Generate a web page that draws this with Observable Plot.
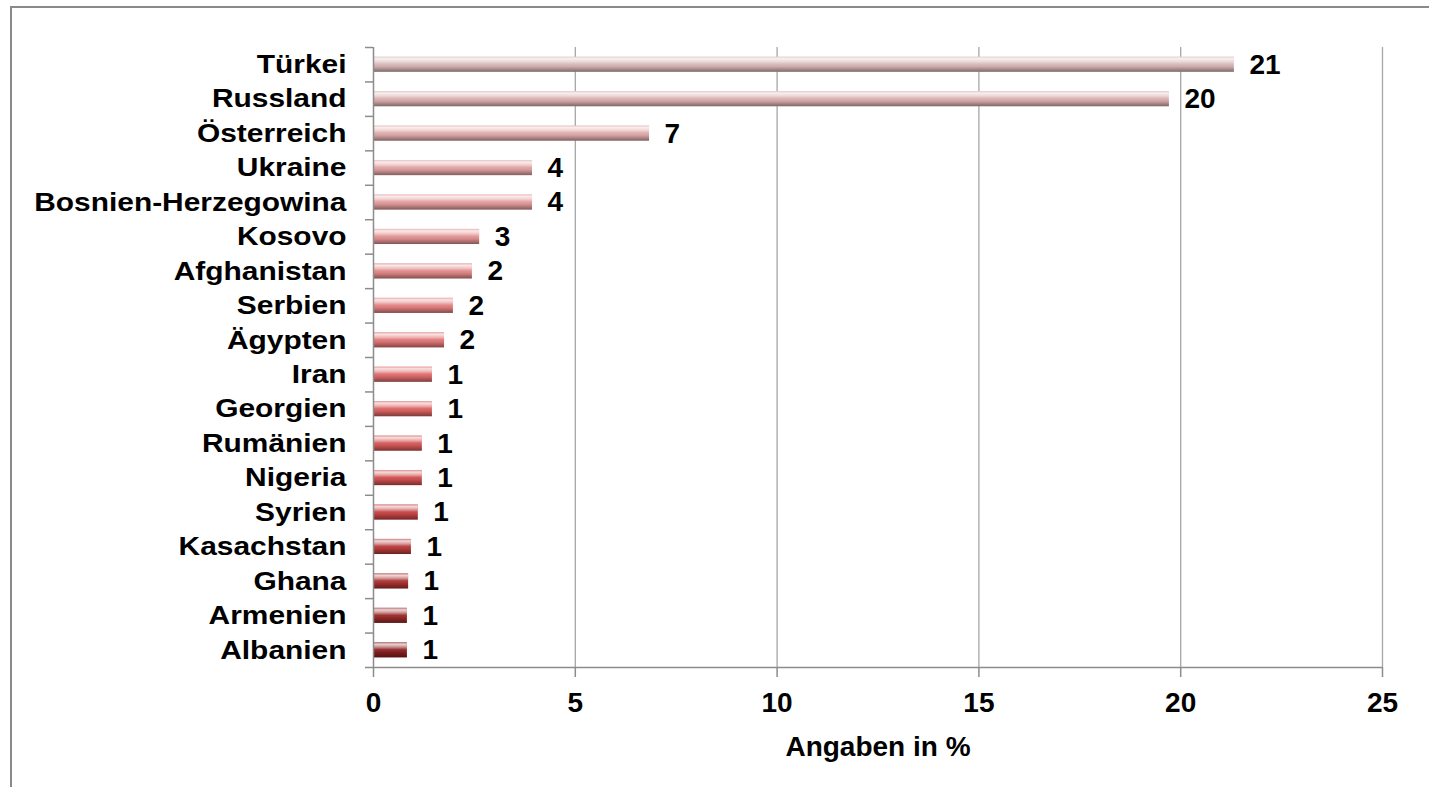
<!DOCTYPE html>
<html>
<head>
<meta charset="utf-8">
<script src="https://cdn.jsdelivr.net/npm/d3@7"></script>
<script src="https://cdn.jsdelivr.net/npm/@observablehq/plot@0.6"></script>
<style>
  body { margin: 0; background: #fff; }
  #wrap { position: relative; width: 1429px; height: 787px; overflow: hidden; }
  #wrap svg { position: absolute; left: 0; top: 0; }
  #border { position: absolute; left: 10px; top: 6px; width: 1440px; height: 800px;
            border-top: 2px solid #8a8a8a; border-left: 2px solid #8a8a8a; pointer-events: none; }
</style>
</head>
<body>
<div id="wrap"><div id="border"></div></div>
<script>
// ---- data ----
const countries = ["Türkei", "Russland", "Österreich", "Ukraine", "Bosnien-Herzegowina", "Kosovo",
  "Afghanistan", "Serbien", "Ägypten", "Iran", "Georgien", "Rumänien", "Nigeria", "Syrien",
  "Kasachstan", "Ghana", "Armenien", "Albanien"];
const values = [21.33, 19.72, 6.84, 3.94, 3.94, 2.63, 2.45, 1.98, 1.76, 1.46, 1.46, 1.21, 1.21, 1.11,
  0.94, 0.87, 0.84, 0.84];
const valueLabels = ["21", "20", "7", "4", "4", "3", "2", "2", "2", "1", "1", "1", "1", "1", "1", "1", "1", "1"];
const xTicks = [0, 5, 10, 15, 20, 25];
const xGrid = [5, 10, 15, 20, 25];
const xTitle = "Angaben in %";

const rows = countries.map((c, i) => ({country: c, value: values[i], label: valueLabels[i]}));

// ---- style ----
const W = 1429, H = 787;
const mTop = 47, mBottom = 120, mLeft = 373, mRight = 47;
const padInner = 0.56;
const step = (H - mTop - mBottom) / countries.length;
const palette = d3.quantize(d3.interpolateRgbBasis(["#d9b6b6", "#e39a9a", "#e27070", "#d04646", "#8a2020"]), countries.length);
const font = "'Liberation Sans', Arial, Helvetica, sans-serif";
const axisGray = "#8c8c8c";
const tickUnits = 8 / ((W - mLeft - mRight) / 25);

function defs() {
  const d = d3.create("svg:defs");
  const g = d.append("linearGradient").attr("id", "shine").attr("x1", 0).attr("y1", 0).attr("x2", 0).attr("y2", 1);
  [[0, "#fff", 0.35], [0.14, "#fff", 0.8], [0.32, "#fff", 0.5], [0.5, "#fff", 0.05],
   [0.68, "#000", 0.08], [1, "#000", 0.42]].forEach(([o, c, a]) =>
    g.append("stop").attr("offset", o).attr("stop-color", c).attr("stop-opacity", a));
  const f = d.append("filter").attr("id", "shadow").attr("x", "-5%").attr("y", "-50%").attr("width", "115%").attr("height", "220%");
  f.append("feDropShadow").attr("dx", 2).attr("dy", 3).attr("stdDeviation", 2)
    .attr("flood-color", "#000").attr("flood-opacity", 0.3);
  return d.node();
}

const svg = Plot.plot({
  width: W, height: H,
  marginTop: mTop, marginBottom: mBottom, marginLeft: mLeft, marginRight: mRight,
  style: {fontFamily: font, background: "transparent"},
  x: {domain: [0, 25]},
  y: {type: "band", domain: countries, paddingInner: padInner, paddingOuter: padInner / 2, round: false},
  color: {type: "ordinal", domain: countries, range: palette},
  marks: [
    defs,
    Plot.ruleX(xGrid, {stroke: "#a6a6a6", strokeWidth: 1.3}),
    Plot.barX(rows, {x: "value", y: "country", fill: "country", ariaLabel: "basebar"}),
    Plot.barX(rows, {x: "value", y: "country", fill: "url(#shine)", ariaLabel: "shinebar"}),
    Plot.ruleX([0], {stroke: axisGray, strokeWidth: 1.5}),
    Plot.ruleY(countries, {y: d => d, x1: -tickUnits, x2: 0, dy: -step / 2, stroke: axisGray, strokeWidth: 1.5}),
    Plot.ruleY([countries[countries.length - 1]], {y: d => d, x1: -tickUnits, x2: 25, dy: step / 2, stroke: axisGray, strokeWidth: 1.5}),
    Plot.axisX({ticks: xTicks, tickSize: 10, tickPadding: 15, stroke: axisGray, strokeWidth: 1.5,
      fill: "#000", fontSize: 28, fontWeight: "bold", label: null}),
    Plot.axisY({tickSize: 0, tickPadding: 27, fill: "#000", fontSize: 26, fontWeight: "bold", label: null}),
    Plot.text(rows, {x: "value", y: "country", text: "label", dx: 15, textAnchor: "start",
      fontSize: 28, fontWeight: "bold", fill: "#000"}),
    Plot.text([xTitle], {frameAnchor: "bottom", lineAnchor: "bottom", dy: 88, fontSize: 28, fontWeight: "bold", fill: "#000"})
  ]
});

document.getElementById("wrap").prepend(svg);
d3.select(svg).selectAll('g[aria-label="basebar"]').attr("filter", "url(#shadow)");
d3.select(svg).selectAll('g[aria-label="y-axis tick label"] text').each(function () {
  const w = this.getComputedTextLength();
  this.setAttribute("textLength", (w * 1.15).toFixed(1));
  this.setAttribute("lengthAdjust", "spacingAndGlyphs");
});
</script>
</body>
</html>
